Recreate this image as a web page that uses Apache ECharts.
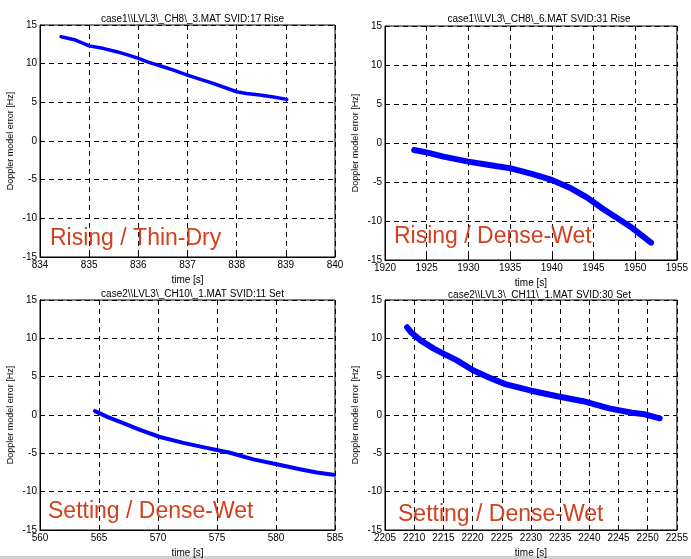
<!DOCTYPE html>
<html>
<head>
<meta charset="utf-8">
<script src="https://cdn.jsdelivr.net/npm/echarts@6/dist/echarts.min.js"></script>
<style>
  html, body { margin: 0; padding: 0; background: #fff; }
  #main { width: 691px; height: 559px; }
</style>
</head>
<body>
<div id="main"></div>
<script>
// 四个子图的标题
var titles = [
    'case1\\\\LVL3\\_CH8\\_3.MAT SVID:17 Rise',
    'case1\\\\LVL3\\_CH8\\_6.MAT SVID:31 Rise',
    'case2\\\\LVL3\\_CH10\\_1.MAT SVID:11 Set',
    'case2\\\\LVL3\\_CH11\\_1.MAT SVID:30 Set'
];
var labels = ['Rising / Thin-Dry', 'Rising / Dense-Wet', 'Setting / Dense-Wet', 'Setting / Dense-Wet'];

// x 轴范围
var xMin = [834, 1920, 560, 2205];
var xMax = [840, 1955, 585, 2255];
var xStep = [1, 5, 5, 5];

// 读图得到的数据 [time, error]
var rise17 = [
    [834.43, 13.49], [834.7, 13.1], [835.0, 12.3], [835.3, 11.95], [835.56, 11.55], [835.8, 11.1],
    [836.0, 10.68], [836.2, 10.2], [836.44, 9.73], [836.7, 9.2], [837.0, 8.53], [837.2, 8.1],
    [837.46, 7.58], [837.7, 7.05], [838.0, 6.37], [838.2, 6.15], [838.47, 5.94], [838.75, 5.7], [839.02, 5.38]
];
var rise31 = [
    [1923.5, -0.9], [1925.1, -1.24], [1927.0, -1.75], [1930.0, -2.39], [1932.5, -2.82],
    [1935.1, -3.25], [1937.6, -3.97], [1940.0, -4.74], [1942.3, -5.81], [1944.2, -6.97],
    [1946.2, -8.5], [1948.2, -9.87], [1949.7, -10.94], [1951.9, -12.78]
];
var set11 = [
    [564.66, 0.51], [565.08, 0.21], [565.65, -0.21], [567.06, -1.07], [568.47, -1.93],
    [570.17, -2.87], [572.15, -3.64], [574.12, -4.29], [576.1, -4.93], [578.08, -5.79],
    [580.06, -6.43], [582.03, -7.07], [583.45, -7.5], [584.86, -7.8]
];
var set30 = [
    [2208.79, 11.44], [2209.45, 10.8], [2211.1, 9.73], [2213.35, 8.66], [2215.0, 8.01],
    [2217.25, 7.16], [2220.0, 5.87], [2222.8, 4.89], [2225.6, 4.03], [2230.05, 3.17],
    [2234.5, 2.44], [2238.96, 1.8], [2243.4, 0.86], [2247.3, 0.3], [2249.5, 0.09], [2252.05, -0.43]
];
var allData = [rise17, rise31, set11, set30];
var lineWidths = [3.5, 6, 4, 6];

var chart = echarts.init(document.getElementById('main'));

var grids = [
    {left: 40, top: 25, width: 295, height: 232},
    {left: 385, top: 26, width: 298, height: 234},
    {left: 40, top: 300, width: 295, height: 233},
    {left: 385, top: 300, width: 299, height: 234}
];
var titleTops = [9, 9, 284, 285];
var labelPos = [[50, 227], [394, 225], [48, 500], [398, 503]];

var font = 'Liberation Sans, Arial';
var option = {
    backgroundColor: '#fff',
    animation: false,
    title: [],
    grid: [],
    xAxis: [],
    yAxis: [],
    series: [],
    graphic: [
        {type: 'rect', left: 0, top: 556, shape: {width: 691, height: 3}, style: {fill: '#d0d0d0'}, silent: true}
    ]
};

for (var i = 0; i < 4; i++) {
    var g = grids[i];
    option.grid.push({
        left: g.left, top: g.top, width: g.width, height: g.height,
        show: true, borderColor: '#000', borderWidth: 1, backgroundColor: '#fff'
    });
    option.title.push({
        text: titles[i],
        left: g.left + g.width / 2,
        top: titleTops[i],
        textAlign: 'center',
        textStyle: {fontSize: 10, fontWeight: 'normal', color: '#000', fontFamily: font}
    });
    option.xAxis.push({
        type: 'value', gridIndex: i,
        min: xMin[i], max: xMax[i], interval: xStep[i],
        name: 'time [s]', nameLocation: 'middle', nameGap: 18,
        nameTextStyle: {fontSize: 10, color: '#000', fontFamily: font},
        axisLine: {show: true, onZero: false, lineStyle: {color: '#000', width: 1}},
        axisTick: {show: true, inside: true, length: 4, lineStyle: {color: '#000'}},
        axisLabel: {fontSize: 10, color: '#000', margin: 3, fontFamily: font,
            formatter: function (v) { return String(v); }},
        splitLine: {show: true, lineStyle: {color: '#000', type: [5, 4], width: 1}}
    });
    option.yAxis.push({
        type: 'value', gridIndex: i,
        min: -15, max: 15, interval: 5,
        name: 'Doppler model error [Hz]', nameLocation: 'middle', nameGap: 25, nameRotate: 90,
        nameTextStyle: {fontSize: 9, color: '#000', fontFamily: font},
        axisLine: {show: true, onZero: false, lineStyle: {color: '#000', width: 1}},
        axisTick: {show: true, inside: true, length: 4, lineStyle: {color: '#000'}},
        axisLabel: {fontSize: 10, color: '#000', margin: 3, fontFamily: font},
        splitLine: {show: true, lineStyle: {color: '#000', type: [5, 4], width: 1}}
    });
    option.series.push({
        type: 'line', xAxisIndex: i, yAxisIndex: i,
        data: allData[i],
        showSymbol: false,
        lineStyle: {color: '#0000ff', width: lineWidths[i], cap: 'round', join: 'round'},
        z: 3
    });
    option.graphic.push({
        type: 'text', left: labelPos[i][0], top: labelPos[i][1], z: 10,
        style: {text: labels[i], fontSize: 23, fill: '#d2401e', fontFamily: font}
    });
}

chart.setOption(option);
</script>
</body>
</html>
